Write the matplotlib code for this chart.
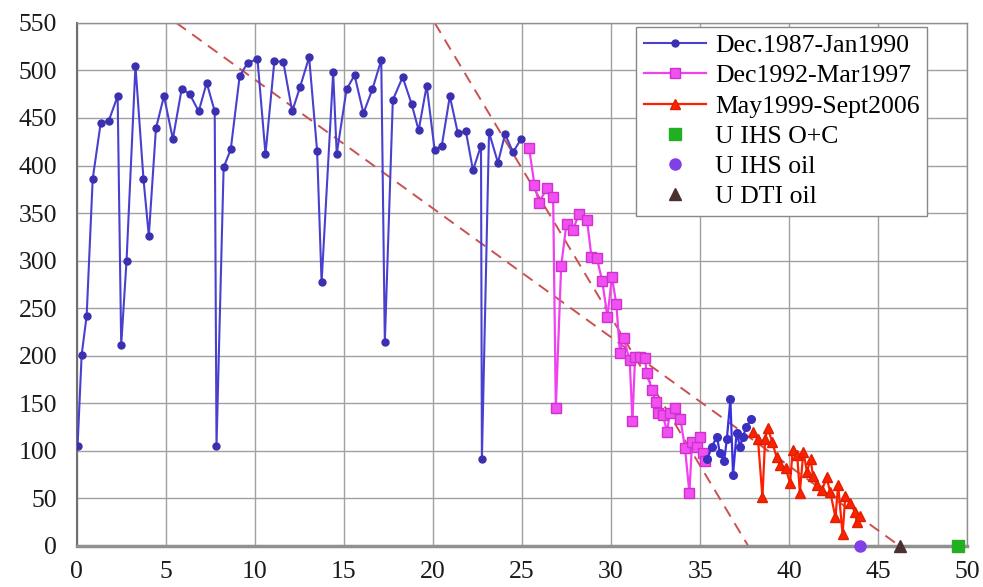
import matplotlib
matplotlib.use("Agg")
import matplotlib.pyplot as plt

# Series 1: Dec.1987-Jan1990
x_s1 = [0.05, 0.28, 0.56, 0.9, 1.35, 1.8, 2.3, 2.5, 2.8, 3.3, 3.75, 4.05, 4.45, 4.9, 5.4, 5.9,
        6.35, 6.85, 7.3, 7.75, 7.85, 8.25, 8.65, 9.15, 9.6, 10.15, 10.6, 11.1, 11.6, 12.1,
        12.55, 13.05, 13.5, 13.75, 14.4, 14.6, 15.15, 15.6, 16.1, 16.6, 17.1, 17.3, 17.75,
        18.3, 18.8, 19.2, 19.65, 20.1, 20.5, 20.95, 21.4, 21.85, 22.25, 22.7, 22.75, 23.15,
        23.65, 24.05, 24.5, 24.95]
y_s1 = [105, 201, 242, 386, 445, 447, 473, 211, 300, 505, 386, 326, 439, 473, 428, 481,
        475, 457, 487, 457, 105, 398, 417, 494, 508, 512, 412, 510, 509, 457,
        483, 514, 415, 277, 498, 412, 480, 495, 455, 480, 511, 214, 469,
        493, 465, 437, 484, 416, 421, 473, 434, 436, 395, 421, 91, 435,
        403, 433, 414, 428]

# Series 2: Dec1992-Mar1997
x_s2 = [25.4, 25.7, 25.95, 26.4, 26.75, 26.9, 27.2, 27.5, 27.85, 28.2, 28.65, 28.9, 29.2,
        29.5, 29.8, 30.05, 30.3, 30.5, 30.7, 31.05, 31.2, 31.35, 31.6, 31.9, 32.0, 32.3,
        32.5, 32.65, 32.9, 33.15, 33.3, 33.6, 33.9, 34.15, 34.4, 34.55, 34.8, 35.0, 35.15, 35.3]
y_s2 = [418, 380, 361, 376, 367, 145, 294, 339, 332, 349, 343, 304, 303,
        279, 241, 283, 254, 203, 219, 195, 131, 199, 199, 198, 182, 164,
        151, 140, 138, 120, 140, 145, 133, 103, 56, 109, 104, 115, 98, 89]

# Unlabelled blue segment between series 2 and 3
x_s1b = [35.4, 35.65, 35.95, 36.1, 36.35, 36.5, 36.7, 36.85, 37.05, 37.25, 37.4, 37.6, 37.85]
y_s1b = [91, 104, 115, 98, 89, 112, 154, 75, 119, 104, 115, 125, 133]

# Series 3: May1999-Sept2006
x_s3 = [37.95, 38.25, 38.5, 38.65, 38.8, 39.05, 39.3, 39.5, 39.8, 40.05, 40.2, 40.45, 40.6,
        40.8, 41.0, 41.2, 41.35, 41.55, 41.85, 42.1, 42.3, 42.6, 42.75, 43.0, 43.15, 43.4,
        43.7, 43.8, 44.0]
y_s3 = [120, 112, 51, 112, 124, 109, 93, 85, 82, 66, 101, 96, 56,
        99, 78, 91, 73, 64, 59, 72, 57, 30, 64, 12, 52, 45,
        36, 25, 31]

# Single estimates
u_ihs_oc = (49.5, 0)
u_ihs_oil = (44.0, 0)
u_dti_oil = (46.2, 0)

# Dashed trend lines (endpoints)
trend1_x = [5.6, 46.2]
trend1_y = [550, 0]
trend2_x = [20.1, 37.7]
trend2_y = [550, 0]

x_ticks = list(range(0, 51, 5))
y_ticks = list(range(0, 551, 50))

fig = plt.figure(figsize=(9.83, 5.87), dpi=100)
ax = fig.add_axes([0.078, 0.070, 0.906, 0.891])

serif = ["Liberation Serif", "DejaVu Serif"]

ax.plot(trend1_x, trend1_y, color="#cc5050", lw=1.4, dashes=(6, 4), zorder=2)
ax.plot(trend2_x, trend2_y, color="#cc5050", lw=1.4, dashes=(6, 4), zorder=2)

blue = "#4a40d0"
ax.plot(x_s1, y_s1, color=blue, lw=1.5, marker="o", ms=5, mfc="#3a30b0", mec="#3a30b0",
        label="Dec.1987-Jan1990", zorder=3)
ax.plot(x_s2, y_s2, color="#f040f0", lw=1.6, marker="s", ms=6.5, mfc="#f050f0", mec="#d030d0",
        label="Dec1992-Mar1997", zorder=3)
ax.plot(x_s1b, y_s1b, color="#3a30e0", lw=1.6, marker="o", ms=5.5, mfc="#3a30c0", mec="#3a30c0",
        zorder=3)
ax.plot(x_s3, y_s3, color="#ff2000", lw=1.6, marker="^", ms=6.5, mfc="#ff2000", mec="#dd2000",
        label="May1999-Sept2006", zorder=3)

ax.plot([u_ihs_oc[0]], [u_ihs_oc[1]], ls="none", marker="s", ms=8, color="#22b022",
        label="U IHS O+C", clip_on=False, zorder=5)
ax.plot([u_ihs_oil[0]], [u_ihs_oil[1]], ls="none", marker="o", ms=8, color="#8040e8",
        label="U IHS oil", clip_on=False, zorder=5)
ax.plot([u_dti_oil[0]], [u_dti_oil[1]], ls="none", marker="^", ms=8, color="#4a3030",
        label="U DTI oil", clip_on=False, zorder=5)

ax.set_xlim(0, 50)
ax.set_ylim(0, 550)
ax.set_xticks(x_ticks)
ax.set_yticks(y_ticks)
ax.grid(True, color="#a0a0a0", lw=1.0)
ax.set_axisbelow(True)
ax.tick_params(axis="y", length=0, pad=14)
ax.tick_params(axis="x", length=0, pad=11)
for lab in ax.get_xticklabels() + ax.get_yticklabels():
    lab.set_family(serif)
    lab.set_fontsize(18.5)
    lab.set_color("#1a1a1a")

for side in ["top", "right"]:
    ax.spines[side].set_color("#909090")
    ax.spines[side].set_linewidth(1.0)
ax.spines["left"].set_color("#707070")
ax.spines["left"].set_linewidth(1.5)
ax.spines["bottom"].set_color("#909090")
ax.spines["bottom"].set_linewidth(2.5)

leg = ax.legend(loc="upper right", bbox_to_anchor=(0.955, 0.993),
                prop={"family": serif, "size": 18.5}, frameon=True, fancybox=False,
                edgecolor="#888888", framealpha=1, labelspacing=0.28,
                handlelength=2.4, borderpad=0.3, handletextpad=0.35, borderaxespad=0.0)
leg.get_frame().set_linewidth(1.0)

fig.savefig("out.png", dpi=100)
